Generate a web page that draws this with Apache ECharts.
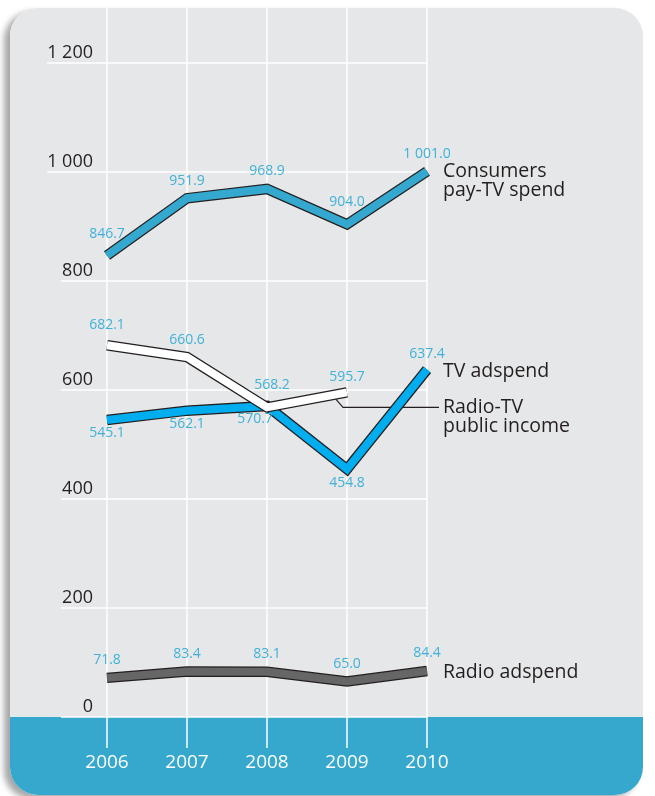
<!DOCTYPE html>
<html><head><meta charset="utf-8">
<script src="https://cdn.jsdelivr.net/npm/echarts@6/dist/echarts.min.js"></script>
<style>
html,body{margin:0;padding:0;background:#fff;width:655px;height:796px;overflow:hidden;}
#card{position:absolute;left:10px;top:8px;width:633px;height:787px;border-radius:28px;
background:linear-gradient(to bottom,#e6e7e8 0,#e6e7e8 709px,#36a7cd 709px,#36a7cd 100%);
box-shadow:-6px 4px 6px rgba(0,0,0,0.35);}
#chart{position:absolute;left:0;top:0;width:655px;height:796px;}
</style></head>
<body><div id="card"></div><div id="chart"></div>
<script>
const years = ['2006', '2007', '2008', '2009', '2010'];
const consumersPayTV = [846.7, 951.9, 968.9, 904.0, 1001.0];
const tvAdspend = [545.1, 562.1, 570.7, 454.8, 637.4];
const radioTVPublicIncome = [682.1, 660.6, 568.2, 595.7, null];
const radioAdspend = [71.8, 83.4, 83.1, 65.0, 84.4];
const yMin = 0, yMax = 1200, yStep = 200;
const seriesNames = ['Consumers\npay-TV spend', 'TV adspend', 'Radio-TV\npublic income', 'Radio adspend'];

const FONT = "'Open Sans', 'Noto Sans', sans-serif";
const INK = '#231f20';
const LABEL_BLUE = '#3fb1da';
const AXIS_FS = 18;

function fmt(v) {
  const s = Number(v).toFixed(1);
  const parts = s.split('.');
  return parts[0].replace(/\B(?=(\d{3})+(?!\d))/g, ' ') + '.' + parts[1];
}
function fmtTick(v) { return String(v).replace(/\B(?=(\d{3})+(?!\d))/g, ' '); }

function lineData(values, labelOpts) {
  return values.map((v, i) => {
    const o = { value: v };
    if (labelOpts && labelOpts[i]) o.label = labelOpts[i];
    return o;
  });
}

function pair(name, values, color, pos, dist, perPoint, z) {
  const outline = {
    type: 'line', name: name + '_outline', xAxisIndex: 0, yAxisIndex: 0,
    data: values, symbol: 'none', silent: true, z: z,
    lineStyle: { color: INK, width: 10.5, cap: 'butt', join: 'miter' },
    animation: false
  };
  const fill = {
    type: 'line', name: name, xAxisIndex: 0, yAxisIndex: 0,
    data: lineData(values, perPoint), symbol: 'circle', symbolSize: 1, showSymbol: true, z: z + 0.5,
    itemStyle: { color: color },
    lineStyle: { color: color, width: 8, cap: 'butt', join: 'miter' },
    label: { show: true, position: pos, distance: dist, color: LABEL_BLUE, fontSize: 14,
      fontFamily: FONT, formatter: p => fmt(p.value) },
    animation: false
  };
  return [outline, fill];
}

const chart = echarts.init(document.getElementById('chart'), null, { renderer: 'canvas' });

const series = [].concat(
  pair('Radio adspend', radioAdspend, '#666666', 'top', 10, null, 2),
  pair('Consumers pay-TV spend', consumersPayTV, '#34a8cf', 'top', 10,
    [{ distance: 14 }, null, null, { distance: 15 }, null], 4),
  pair('TV adspend', tvAdspend, '#00aeef', 'bottom', 6,
    [null, null, { offset: [-12, 0] }, null, { position: 'top', distance: 8 }], 6),
  pair('Radio-TV public income', radioTVPublicIncome, '#ffffff', 'top', 11,
    [{ distance: 13 }, { distance: 9 }, { distance: 15, offset: [5, 0] }, { distance: 8 }, null], 8)
);

chart.setOption({
  animation: false,
  grid: [
    { left: 107, width: 320, top: 63, height: 654 },
    { left: 61, width: 366, top: 63, height: 654 },
    { left: 107, width: 320, top: 8, bottom: 48 }
  ],
  xAxis: [
    { gridIndex: 0, type: 'category', data: years, boundaryGap: false, show: false },
    { gridIndex: 1, type: 'value', show: false, min: 0, max: 1 },
    { gridIndex: 2, type: 'category', data: years, boundaryGap: false,
      axisLine: { show: false }, axisTick: { show: false },
      splitLine: { show: true, lineStyle: { color: '#ffffff', width: 1.5 } },
      axisLabel: { color: '#ffffff', fontSize: 19, fontFamily: FONT, margin: 5 } }
  ],
  yAxis: [
    { gridIndex: 0, type: 'value', min: yMin, max: yMax, interval: yStep, show: false },
    { gridIndex: 1, type: 'value', min: yMin, max: yMax, interval: yStep,
      axisLine: { show: false }, axisTick: { show: false },
      splitLine: { show: true, lineStyle: { color: '#ffffff', width: 1.5 } },
      axisLabel: { inside: true, margin: 32, align: 'right', verticalAlign: 'bottom',
        color: INK, fontSize: AXIS_FS, fontFamily: FONT, padding: [0, 0, 1, 0],
        formatter: fmtTick } },
    { gridIndex: 2, type: 'value', min: 0, max: 1, show: false }
  ],
  series: series
});

function px(i, v) { return chart.convertToPixel({ gridIndex: 0 }, [i, v]); }

const pC = px(4, consumersPayTV[4]);
const pT = px(4, tvAdspend[4]);
const pR = px(3, radioTVPublicIncome[3]);
const pA = px(4, radioAdspend[4]);
const textX = pC[0] + 16;
const leaderY = pR[1] + 15;

function txt(text, x, y) {
  return { type: 'text', x: x, y: y, z: 50,
    style: { text: text, fill: INK, fontSize: 19.5, fontFamily: FONT, lineHeight: 19,
      textAlign: 'left', textVerticalAlign: 'middle' } };
}

// grid lines start under the left edge of each tick label
const mctx = document.createElement('canvas').getContext('2d');
mctx.font = AXIS_FS + "px 'Open Sans'";
const gridLeft = 61, labelRight = 61 + 32;
const extensions = [];
for (let v = yMin; v <= yMax; v += yStep) {
  const w = mctx.measureText(fmtTick(v)).width;
  const x0 = labelRight - w;
  if (x0 < gridLeft - 1 && v > yMin) {
    const y = chart.convertToPixel({ yAxisIndex: 1 }, v);
    extensions.push({ type: 'line', z: 0, silent: true,
      shape: { x1: x0, y1: y, x2: gridLeft, y2: y },
      style: { stroke: '#ffffff', lineWidth: 1.5 } });
  }
}

chart.setOption({
  graphic: extensions.concat([
    { type: 'polyline', z: 1, silent: true,
      shape: { points: [[pR[0] - 11, pR[1] + 7], [pR[0] - 4, leaderY], [textX - 4, leaderY]] },
      style: { stroke: INK, lineWidth: 1.1, fill: null } },
    txt(seriesNames[0], textX, pC[1] + 9),
    txt(seriesNames[1], textX, pT[1] + 2),
    txt(seriesNames[2], textX, leaderY + 10),
    txt(seriesNames[3], textX, pA[1] + 1)
  ])
});
</script>
</body></html>
